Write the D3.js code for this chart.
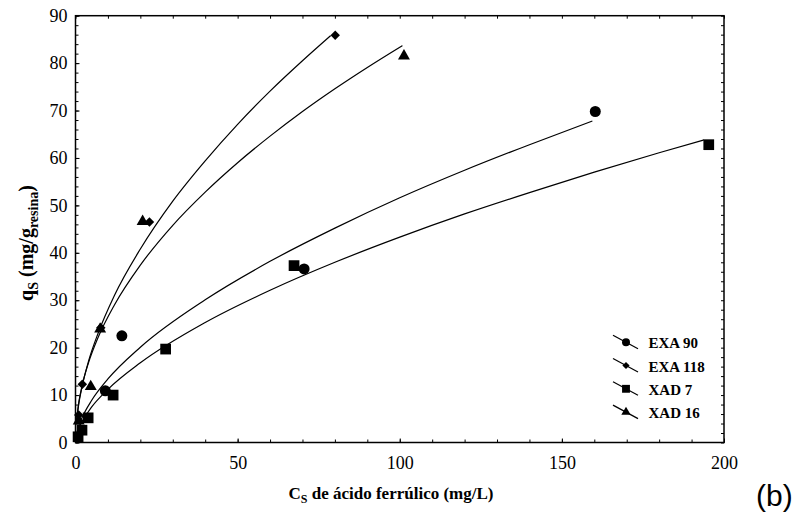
<!DOCTYPE html>
<html>
<head>
<meta charset="utf-8">
<script src="https://cdn.jsdelivr.net/npm/d3@7"></script>
<style>
  body { margin: 0; background: #fff; }
  svg { display: block; }
</style>
</head>
<body>
<svg id="chart" width="796" height="530"></svg>
<script>
// measured points
var seriesNames = ["EXA 90", "EXA 118", "XAD 7", "XAD 16"];
var exa90 = [[9.2, 10.9], [14.3, 22.5], [70.5, 36.6], [160.3, 69.8]];
var exa118 = [[1.0, 5.8], [2.1, 12.3], [7.8, 24.2], [22.8, 46.5], [80.1, 85.9]];
var xad7 = [[0.8, 1.2], [2.0, 2.6], [3.9, 5.2], [11.6, 10.0], [27.8, 19.7], [67.4, 37.3], [195.3, 62.8]];
var xad16 = [[1.0, 4.5], [4.7, 11.8], [7.6, 23.9], [20.7, 46.6], [101.3, 81.5]];

// fitted curves
var fitExa90 = [[0.3, 1.7], [1, 3.5], [2, 5.2], [5, 8.9], [10, 13.4], [20, 20.1], [40, 30.1], [60, 38.2], [80, 45.2], [100, 51.6], [120, 57.4], [140, 62.8], [159.4, 67.8]];
var fitExa118 = [[0.3, 4.2], [1, 8.1], [2, 11.7], [4, 17.1], [7, 23.1], [12, 31.0], [20, 40.8], [30, 50.9], [40, 59.4], [50, 67.1], [60, 74.1], [70, 80.5], [78.7, 85.8]];
var fitXad7 = [[0.3, 1.4], [1, 2.9], [2, 4.4], [5, 7.5], [10, 11.2], [20, 16.8], [40, 25.3], [60, 32.1], [80, 38.0], [100, 43.3], [120, 48.2], [140, 52.7], [160, 57.0], [180, 61.1], [193.8, 63.8]];
var fitXad16 = [[0.3, 4.6], [1, 8.4], [2, 11.9], [4, 16.8], [7, 22.2], [12, 29.0], [20, 37.4], [30, 45.8], [40, 52.8], [50, 59.0], [60, 64.6], [70, 69.8], [80, 74.6], [90, 79.1], [100.8, 83.7]];

var xTicks = [0, 50, 100, 150, 200];
var yTicks = [0, 10, 20, 30, 40, 50, 60, 70, 80, 90];

var margin = {top: 15.7, right: 72, bottom: 87.5, left: 75.5},
    width = 796 - margin.left - margin.right,
    height = 530 - margin.top - margin.bottom;

var svg = d3.select("#chart")
  .append("g")
    .attr("transform", "translate(" + margin.left + "," + margin.top + ")");

var x = d3.scaleLinear().domain([0, 200]).range([0, width]);
var y = d3.scaleLinear().domain([0, 90]).range([height, 0]);

var serif = "Liberation Serif, Times New Roman, serif";

function minorTicks(max, step) {
  return d3.range(0, max + step / 2, step);
}

// minor ticks on all four sides
svg.append("g").attr("transform", "translate(0," + height + ")")
  .call(d3.axisBottom(x).tickValues(minorTicks(200, 10)).tickSize(-3).tickFormat(""));
svg.append("g")
  .call(d3.axisTop(x).tickValues(minorTicks(200, 10)).tickSize(-3).tickFormat(""));
svg.append("g")
  .call(d3.axisLeft(y).tickValues(minorTicks(90, 2)).tickSize(-3).tickFormat(""));
svg.append("g").attr("transform", "translate(" + width + ",0)")
  .call(d3.axisRight(y).tickValues(minorTicks(90, 2)).tickSize(-3).tickFormat(""));

// major ticks with labels
var xAxis = svg.append("g").attr("transform", "translate(0," + height + ")")
  .call(d3.axisBottom(x).tickValues(xTicks).tickSize(-4).tickPadding(14).tickFormat(d3.format("d")))
  .attr("font-family", serif).attr("font-size", 18);
var yAxis = svg.append("g")
  .call(d3.axisLeft(y).tickValues(yTicks).tickSize(-4).tickPadding(8).tickFormat(d3.format("d")))
  .attr("font-family", serif).attr("font-size", 18);

svg.selectAll(".domain").remove();
svg.selectAll(".tick line").attr("stroke", "#000").attr("stroke-width", 1);
svg.selectAll(".tick text").attr("fill", "#000");

// frame
svg.append("rect")
  .attr("width", width).attr("height", height)
  .attr("fill", "none").attr("stroke", "#000").attr("stroke-width", 1.5);

// curves
var line = d3.line()
  .x(function(d) { return x(d[0]); })
  .y(function(d) { return y(d[1]); })
  .curve(d3.curveMonotoneX);

[fitExa90, fitExa118, fitXad7, fitXad16].forEach(function(c) {
  svg.append("path")
    .datum(c)
    .attr("d", line)
    .attr("fill", "none")
    .attr("stroke", "#000")
    .attr("stroke-width", 1.2);
});

// markers
var symbols = [
  {type: d3.symbolCircle, size: 95, rot: 0, big: 50},
  {type: d3.symbolSquare, size: 45, rot: 45, big: 26},
  {type: d3.symbolSquare, size: 115, rot: 0, big: 62},
  {type: d3.symbolTriangle, size: 62, rot: 0, big: 38}
];

[exa90, exa118, xad7, xad16].forEach(function(data, i) {
  var s = symbols[i];
  svg.selectAll("mark" + i)
    .data(data)
    .enter()
    .append("path")
      .attr("d", d3.symbol().type(s.type).size(s.size))
      .attr("transform", function(d) {
        return "translate(" + x(d[0]) + "," + y(d[1]) + ") rotate(" + s.rot + ")";
      })
      .attr("fill", "#000");
});

// legend
var legend = svg.append("g").attr("transform", "translate(537.5,327.5)");
seriesNames.forEach(function(name, i) {
  var g = legend.append("g").attr("transform", "translate(0," + (i * 23.3) + ")");
  g.append("line")
    .attr("x1", 0).attr("y1", -8).attr("x2", 25).attr("y2", 5.5)
    .attr("stroke", "#000").attr("stroke-width", 1.2);
  g.append("path")
    .attr("d", d3.symbol().type(symbols[i].type).size(symbols[i].big))
    .attr("transform", "translate(13,-1) rotate(" + symbols[i].rot + ")")
    .attr("fill", "#000");
  g.append("text")
    .attr("x", 35.5).attr("y", 5)
    .attr("font-family", serif).attr("font-size", 15).attr("font-weight", "bold")
    .text(name);
});

// axis titles
var xt = svg.append("text")
  .attr("x", 315.5).attr("y", height + 56.5)
  .attr("text-anchor", "middle")
  .attr("font-family", serif).attr("font-size", 17).attr("font-weight", "bold");
xt.append("tspan").text("C");
xt.append("tspan").attr("dy", 4).attr("font-size", 12).text("S");
xt.append("tspan").attr("dy", -4).text(" de ácido ferrúlico (mg/L)");

var yt = svg.append("text")
  .attr("transform", "translate(-43," + (243 - margin.top) + ") rotate(-90)")
  .attr("text-anchor", "middle")
  .attr("font-family", serif).attr("font-size", 20).attr("font-weight", "bold");
yt.append("tspan").text("q");
yt.append("tspan").attr("dy", 5).attr("font-size", 14).text("S");
yt.append("tspan").attr("dy", -5).text(" (mg/g");
yt.append("tspan").attr("dy", 5).attr("font-size", 14).text("resina");
yt.append("tspan").attr("dy", -5).text(")");

// panel label
d3.select("#chart").append("text")
  .attr("x", 756).attr("y", 506)
  .attr("font-family", "Liberation Sans, Arial, sans-serif").attr("font-size", 30)
  .text("(b)");
</script>
</body>
</html>
